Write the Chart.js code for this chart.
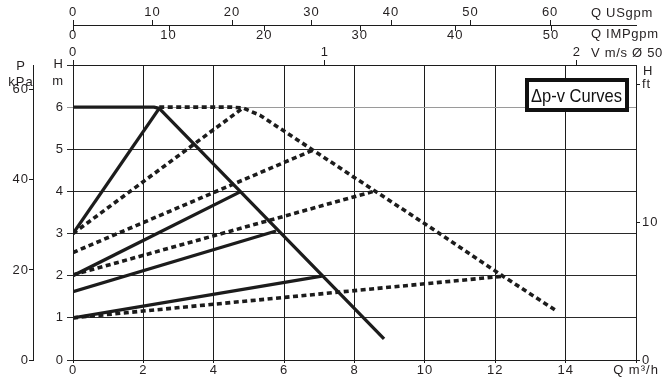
<!DOCTYPE html>
<html>
<head>
<meta charset="utf-8">
<script src="https://cdn.jsdelivr.net/npm/chart.js@4.4.0/dist/chart.umd.min.js"></script>
<style>
  html, body { margin: 0; padding: 0; background: #fff; }
  canvas { display: block; }
</style>
</head>
<body>
<canvas id="pumpChart" width="671" height="381"></canvas>
<script>
// flow Q in m3/h, head H in m
const maxSolidQ = [0, 2.3, 2.45, 8.84];
const maxSolidH = [6, 6, 5.97, 0.5];
const maxDotQ = [2.45, 4.5, 4.83, 5.31, 6.82, 8.58, 10.06, 12.22, 13.75];
const maxDotH = [6, 6, 5.98, 5.81, 4.98, 4.01, 3.2, 1.99, 1.16];

// straight dp-v lines: start at Q = 0, end on the max curve
const solidStartH = [3, 2, 1.62, 1];
const solidEndQ = [2.45, 4.75, 5.77, 7.07];
const solidEndH = [5.97, 3.99, 3.06, 1.99];

const dotStartH = [3, 2.55, 2.02, 1];
const dotEndQ = [4.83, 6.82, 8.58, 12.25];
const dotEndH = [5.98, 4.98, 4.01, 1.99];

// axes
const qTicks = [0, 2, 4, 6, 8, 10, 12, 14, 16];
const hTicks = [0, 1, 2, 3, 4, 5, 6, 7];
const kpaTicks = [0, 20, 40, 60];
const ftTicks = [0, 10, 20];
const usgpmTicks = [0, 10, 20, 30, 40, 50, 60];
const impgpmTicks = [0, 10, 20, 30, 40, 50];
const velTicks = [0, 1, 2];

const qMax = 16, hMax = 7, kpaMax = 65.5, ftMax = 21.4;
const usgpmMax = 70.8, impgpmMax = 58.9, velMax = 2.235;

const ink = '#1c1c1c';
const txt = '#231f20';
const fontFamily = 'Liberation Sans, Arial, sans-serif';
const font = { family: fontFamily, size: 13 };

function curve(qs, hs, dotted) {
    return {
        data: qs.map((q, i) => ({ x: q, y: hs[i] })),
        showLine: true,
        pointRadius: 0,
        borderColor: ink,
        borderWidth: dotted ? 3.6 : 3.3,
        borderDash: dotted ? [5, 3.5] : [],
        borderCapStyle: 'butt',
        borderJoinStyle: 'round',
        fill: false,
        tension: 0
    };
}

const datasets = [curve(maxSolidQ, maxSolidH, false), curve(maxDotQ, maxDotH, true)];
solidStartH.forEach((h, i) => datasets.push(curve([0, solidEndQ[i]], [h, solidEndH[i]], false)));
dotStartH.forEach((h, i) => datasets.push(curve([0, dotEndQ[i]], [h, dotEndH[i]], true)));

const useTicks = list => scale => { scale.ticks = list.map(v => ({ value: v })); };
const fixW = w => scale => { scale.width = w; };
const fixH = h => scale => { scale.height = h; };

const extras = {
    id: 'extras',
    beforeDraw(chart) {
        chart.ctx.letterSpacing = '1px';
    },
    afterDraw(chart) {
        const ctx = chart.ctx;
        const xI = chart.scales.xI;
        const lineY = chart.scales.xU.bottom;
        ctx.save();
        // IMPgpm ticks hang below the USgpm line
        ctx.strokeStyle = ink;
        ctx.lineWidth = 1;
        xI.ticks.forEach((t, i) => {
            const px = Math.round(xI.getPixelForTick(i)) + 0.5;
            ctx.beginPath();
            ctx.moveTo(px, lineY);
            ctx.lineTo(px, lineY + 6);
            ctx.stroke();
        });

        ctx.letterSpacing = '0.7px';
        ctx.fillStyle = txt;
        ctx.font = '13px ' + fontFamily;
        ctx.textBaseline = 'middle';
        ctx.textAlign = 'left';
        ctx.fillText('Q USgpm', 591, 13);
        ctx.fillText('Q IMPgpm', 591, 34);
        ctx.fillText('V m/s \u00d8 50', 591, 53);
        ctx.letterSpacing = '1px';
        ctx.fillText('H', 643, 71);
        ctx.textAlign = 'center';
        ctx.fillText('P', 21, 66);
        ctx.fillText('kPa', 21, 82);
        ctx.textAlign = 'right';
        ctx.fillText('H', 64, 64);
        ctx.fillText('m', 64, 81);

        // legend box
        ctx.fillStyle = '#fff';
        ctx.fillRect(527, 80, 100, 30);
        ctx.strokeStyle = '#111';
        ctx.lineWidth = 4;
        ctx.strokeRect(527, 80, 100, 30);
        ctx.letterSpacing = '0px';
        ctx.fillStyle = '#111';
        ctx.font = '19px ' + fontFamily;
        ctx.textAlign = 'left';
        ctx.textBaseline = 'alphabetic';
        const label = '\u0394p-v Curves';
        const sx = 91 / ctx.measureText(label).width;
        ctx.translate(531, 102);
        ctx.scale(sx, 1);
        ctx.fillText(label, 0, 0);
        ctx.restore();
    }
};

new Chart(document.getElementById('pumpChart'), {
    type: 'scatter',
    data: { datasets },
    options: {
        responsive: false,
        animation: false,
        layout: { padding: 0 },
        plugins: { legend: { display: false }, tooltip: { enabled: false } },
        scales: {
            x: {
                type: 'linear', position: 'bottom', min: 0, max: qMax,
                afterBuildTicks: useTicks(qTicks), afterFit: fixH(21),
                grid: { color: ink, lineWidth: 1, tickLength: 3 },
                border: { color: ink, width: 1 },
                ticks: {
                    font, color: txt, padding: 0, maxRotation: 0, autoSkip: false,
                    callback: v => v === qMax ? 'Q m\u00b3/h' : v
                }
            },
            y: {
                type: 'linear', position: 'left', weight: 0, min: 0, max: hMax,
                afterBuildTicks: useTicks(hTicks), afterFit: fixW(40),
                grid: {
                    color: c => c.tick && c.tick.value === 6 ? '#9a9a9a' : '#2a2a2a',
                    lineWidth: 1, tickLength: 6
                },
                border: { color: ink, width: 1 },
                ticks: { font, color: txt, padding: 3, autoSkip: false, callback: v => v === hMax ? '' : v }
            },
            yP: {
                type: 'linear', position: 'left', weight: 1, min: 0, max: kpaMax,
                afterBuildTicks: useTicks(kpaTicks), afterFit: fixW(33),
                grid: { drawOnChartArea: false, color: ink, tickLength: 4 },
                border: { color: ink, width: 1 },
                ticks: { font, color: txt, padding: 0, autoSkip: false }
            },
            yFt: {
                type: 'linear', position: 'right', min: 0, max: ftMax,
                afterBuildTicks: useTicks(ftTicks), afterFit: fixW(35),
                grid: { drawOnChartArea: false, color: ink, tickLength: 4 },
                border: { color: ink, width: 1 },
                ticks: { font, color: txt, padding: 2, autoSkip: false, callback: v => v === 20 ? 'ft' : v }
            },
            xV: {
                type: 'linear', position: 'top', weight: 0, min: 0, max: velMax,
                afterBuildTicks: useTicks(velTicks), afterFit: fixH(22),
                grid: { drawOnChartArea: false, color: ink, tickLength: 5 },
                border: { color: ink, width: 1 },
                ticks: { font, color: txt, padding: 0, maxRotation: 0, autoSkip: false }
            },
            xI: {
                type: 'linear', position: 'top', weight: 1, min: 0, max: impgpmMax,
                afterBuildTicks: useTicks(impgpmTicks), afterFit: fixH(18),
                grid: { display: false, drawTicks: false },
                border: { display: false },
                ticks: { font, color: txt, padding: 0, maxRotation: 0, autoSkip: false }
            },
            xU: {
                type: 'linear', position: 'top', weight: 2, min: 0, max: usgpmMax,
                afterBuildTicks: useTicks(usgpmTicks), afterFit: fixH(25),
                grid: { drawOnChartArea: false, color: ink, tickLength: 5 },
                border: { color: ink, width: 1 },
                ticks: { font, color: txt, padding: 0, maxRotation: 0, autoSkip: false }
            }
        }
    },
    plugins: [extras]
});
</script>
</body>
</html>
